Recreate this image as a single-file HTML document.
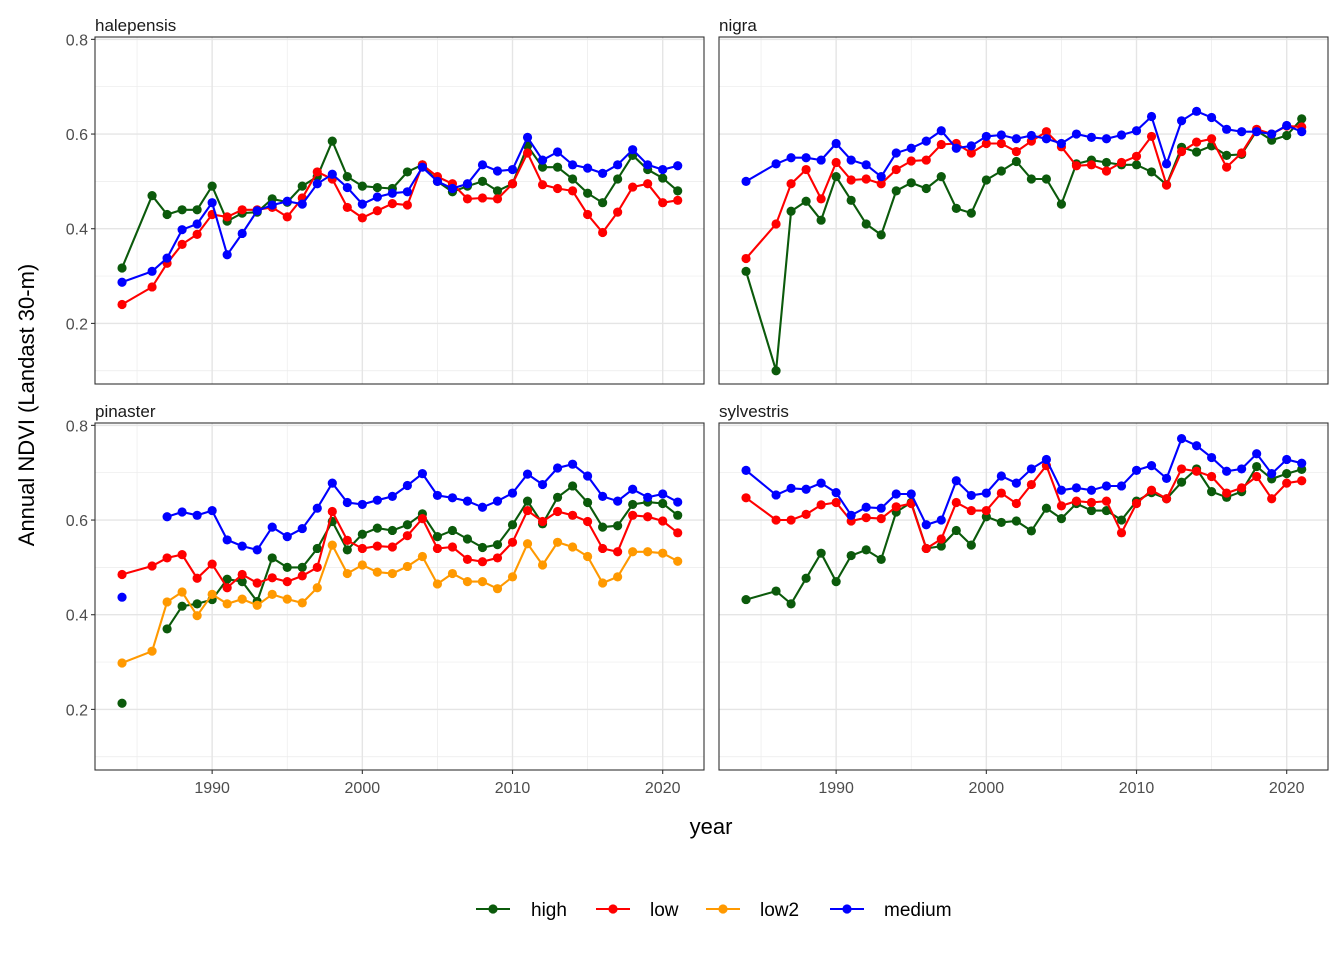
<!DOCTYPE html>
<html><head><meta charset="utf-8"><style>
html,body{margin:0;background:#fff;font-family:"Liberation Sans",Arial,sans-serif;width:1344px;height:960px;overflow:hidden}
svg text{font-family:"Liberation Sans",Arial,sans-serif}
#chart{position:absolute;left:0;top:0}
</style></head><body>
<svg id="chart" width="1344" height="960" viewBox="0 0 1344 960"></svg>
<script>
const years=[1984,1986,1987,1988,1989,1990,1991,1992,1993,1994,1995,1996,1997,1998,1999,2000,2001,2002,2003,2004,2005,2006,2007,2008,2009,2010,2011,2012,2013,2014,2015,2016,2017,2018,2019,2020,2021];
const panelNames=["halepensis","nigra","pinaster","sylvestris"];
const seriesNames=["high","low","low2","medium"];
const seriesColors=["#0b5a0b","#ff0000","#ff9900","#0000ff"];
const yTicks=[0.2,0.4,0.6,0.8];
const xTicks=[1990,2000,2010,2020];
const halHigh=[0.317,0.47,0.43,0.44,0.44,0.49,0.416,0.433,0.435,0.463,0.456,0.49,0.51,0.585,0.51,0.49,0.487,0.485,0.52,0.535,0.5,0.478,0.49,0.5,0.48,0.495,0.575,0.53,0.53,0.505,0.475,0.455,0.505,0.555,0.525,0.507,0.48];
const halLow=[0.24,0.277,0.327,0.367,0.388,0.43,0.425,0.44,0.44,0.445,0.425,0.465,0.52,0.505,0.445,0.423,0.438,0.453,0.45,0.535,0.51,0.495,0.463,0.465,0.463,0.495,0.56,0.493,0.485,0.48,0.43,0.392,0.435,0.488,0.495,0.455,0.46];
const halMed=[0.287,0.31,0.338,0.398,0.41,0.455,0.345,0.39,0.438,0.45,0.458,0.452,0.495,0.515,0.487,0.452,0.467,0.475,0.478,0.53,0.5,0.485,0.495,0.535,0.522,0.525,0.593,0.545,0.562,0.535,0.528,0.517,0.535,0.567,0.535,0.525,0.533];
const nigHigh=[0.31,0.1,0.437,0.458,0.418,0.51,0.46,0.41,0.387,0.48,0.497,0.485,0.51,0.443,0.433,0.503,0.522,0.542,0.505,0.505,0.452,0.537,0.545,0.54,0.535,0.535,0.52,0.493,0.572,0.562,0.575,0.555,0.557,0.607,0.587,0.597,0.632];
const nigLow=[0.337,0.41,0.495,0.525,0.463,0.54,0.503,0.505,0.495,0.525,0.543,0.545,0.578,0.58,0.56,0.58,0.58,0.563,0.585,0.605,0.573,0.533,0.535,0.522,0.54,0.553,0.595,0.492,0.563,0.583,0.59,0.53,0.56,0.61,0.6,0.617,0.615];
const nigMed=[0.5,0.537,0.55,0.55,0.545,0.58,0.545,0.535,0.51,0.56,0.57,0.585,0.607,0.57,0.575,0.595,0.598,0.59,0.597,0.59,0.58,0.6,0.593,0.59,0.598,0.607,0.637,0.537,0.628,0.648,0.635,0.61,0.605,0.605,0.6,0.618,0.605];
const pinHigh=[0.213,null,0.37,0.418,0.423,0.432,0.475,0.47,0.428,0.52,0.5,0.5,0.54,0.597,0.537,0.57,0.583,0.578,0.59,0.613,0.565,0.578,0.56,0.542,0.548,0.59,0.64,0.592,0.648,0.672,0.637,0.585,0.588,0.633,0.638,0.635,0.61];
const pinLow=[0.485,0.503,0.52,0.527,0.477,0.507,0.457,0.485,0.467,0.478,0.47,0.482,0.5,0.618,0.557,0.54,0.545,0.543,0.567,0.603,0.54,0.543,0.517,0.512,0.52,0.553,0.62,0.597,0.618,0.61,0.597,0.54,0.533,0.61,0.607,0.598,0.573];
const pinLow2=[0.298,0.323,0.427,0.448,0.398,0.443,0.423,0.433,0.42,0.443,0.433,0.425,0.457,0.547,0.487,0.505,0.49,0.487,0.502,0.523,0.465,0.487,0.47,0.47,0.455,0.48,0.55,0.505,0.553,0.543,0.523,0.467,0.48,0.533,0.533,0.53,0.513];
const pinMed=[0.437,null,0.607,0.617,0.61,0.62,0.558,0.545,0.537,0.585,0.565,0.582,0.625,0.678,0.637,0.633,0.642,0.65,0.673,0.698,0.652,0.647,0.64,0.627,0.64,0.657,0.697,0.675,0.71,0.718,0.693,0.65,0.64,0.665,0.648,0.655,0.638];
const sylHigh=[0.432,0.45,0.423,0.477,0.53,0.47,0.525,0.537,0.517,0.617,0.637,0.54,0.545,0.578,0.547,0.607,0.595,0.598,0.577,0.625,0.603,0.635,0.62,0.62,0.6,0.64,0.658,0.645,0.68,0.708,0.66,0.648,0.66,0.713,0.687,0.698,0.707];
const sylLow=[0.647,0.6,0.6,0.612,0.632,0.637,0.598,0.605,0.603,0.628,0.635,0.54,0.56,0.637,0.62,0.62,0.657,0.635,0.675,0.715,0.63,0.64,0.637,0.64,0.573,0.635,0.663,0.645,0.708,0.703,0.692,0.657,0.668,0.692,0.645,0.678,0.683];
const sylMed=[0.705,0.653,0.667,0.665,0.678,0.658,0.61,0.627,0.625,0.655,0.655,0.59,0.6,0.683,0.652,0.657,0.693,0.678,0.708,0.728,0.663,0.668,0.663,0.672,0.672,0.705,0.715,0.688,0.772,0.757,0.732,0.703,0.708,0.74,0.698,0.728,0.72];
const panelData=[[halHigh,halLow,null,halMed],[nigHigh,nigLow,null,nigMed],[pinHigh,pinLow,pinLow2,pinMed],[sylHigh,sylLow,null,sylMed]];

const NS="http://www.w3.org/2000/svg";
const svg=document.getElementById('chart');
function mk(tag,attrs,parent){const e=document.createElementNS(NS,tag);for(const k in attrs)e.setAttribute(k,attrs[k]);(parent||svg).appendChild(e);return e;}
const panels=[{x:95,y:37},{x:719,y:37},{x:95,y:423},{x:719,y:423}];
const PW=609,PH=347;
const yMin=0.072,yMax=0.805,xMin=1982.2,xMax=2022.75;
panels.forEach((p,pi)=>{
  const g=mk('g',{});
  
  
  const sx=v=>p.x+(v-xMin)/(xMax-xMin)*PW;
  const sy=v=>p.y+PH-(v-yMin)/(yMax-yMin)*PH;
  [0.1,0.3,0.5,0.7].forEach(v=>mk('line',{x1:p.x,x2:p.x+PW,y1:sy(v),y2:sy(v),stroke:'#ebebeb','stroke-width':0.7},g));
  [1985,1995,2005,2015].forEach(v=>mk('line',{x1:sx(v),x2:sx(v),y1:p.y,y2:p.y+PH,stroke:'#ebebeb','stroke-width':0.7},g));
  yTicks.forEach(v=>mk('line',{x1:p.x,x2:p.x+PW,y1:sy(v),y2:sy(v),stroke:'#e5e5e5','stroke-width':1.4},g));
  xTicks.forEach(v=>mk('line',{x1:sx(v),x2:sx(v),y1:p.y,y2:p.y+PH,stroke:'#e5e5e5','stroke-width':1.4},g));
  panelData[pi].forEach((arr,si)=>{
    if(!arr)return;
    const sg=mk('g',{},g);
    
    
    let d='',pen=false;
    arr.forEach((v,i)=>{if(v==null){pen=false;return;}d+=(pen?'L':'M')+sx(years[i]).toFixed(1)+','+sy(v).toFixed(1);pen=true;});
    mk('path',{d:d,fill:'none',stroke:seriesColors[si],'stroke-width':2.1},sg);
    arr.forEach((v,i)=>{if(v==null)return;
      const c=mk('circle',{cx:sx(years[i]),cy:sy(v),r:4.6,fill:seriesColors[si]},sg);
      
      
    });
  });
  mk('rect',{x:p.x,y:p.y,width:PW,height:PH,fill:'none',stroke:'#333','stroke-width':1.1},g);
  const t=mk('text',{x:p.x,y:p.y-6,'font-size':'17px',fill:'#1a1a1a'},g);t.textContent=panelNames[pi];
  
  
  if(pi%2==0){yTicks.forEach(v=>{
    mk('line',{x1:p.x-4,x2:p.x,y1:sy(v),y2:sy(v),stroke:'#333','stroke-width':1.1},g);
    const tt=mk('text',{x:p.x-7,y:sy(v)+6,'font-size':'16px',fill:'#4d4d4d','text-anchor':'end'},g);tt.textContent=v.toFixed(1);
    
    
  });}
  if(pi>=2){xTicks.forEach(v=>{
    mk('line',{x1:sx(v),x2:sx(v),y1:p.y+PH,y2:p.y+PH+4,stroke:'#333','stroke-width':1.1},g);
    const tt=mk('text',{x:sx(v),y:p.y+PH+23,'font-size':'16px',fill:'#4d4d4d','text-anchor':'middle'},g);tt.textContent=v;
    
    
  });}
});
</script>
<svg width="1344" height="960" style="position:absolute;left:0;top:0;pointer-events:none">
<text x="711" y="834" font-size="22" text-anchor="middle" fill="#000">year</text>
<text transform="translate(34,405) rotate(-90)" font-size="22" text-anchor="middle" fill="#000">Annual NDVI (Landast 30-m)</text>
<g>
<g><line x1="476" x2="510" y1="909" y2="909" stroke="#0b5a0b" stroke-width="2.1"/><circle cx="493" cy="909" r="4.6" fill="#0b5a0b"/><text x="531" y="916" font-size="19" fill="#000">high</text></g>
<g><line x1="596" x2="630" y1="909" y2="909" stroke="#ff0000" stroke-width="2.1"/><circle cx="613" cy="909" r="4.6" fill="#ff0000"/><text x="650" y="916" font-size="19" fill="#000">low</text></g>
<g><line x1="706" x2="740" y1="909" y2="909" stroke="#ff9900" stroke-width="2.1"/><circle cx="723" cy="909" r="4.6" fill="#ff9900"/><text x="760" y="916" font-size="19" fill="#000">low2</text></g>
<g><line x1="830" x2="864" y1="909" y2="909" stroke="#0000ff" stroke-width="2.1"/><circle cx="847" cy="909" r="4.6" fill="#0000ff"/><text x="884" y="916" font-size="19" fill="#000">medium</text></g>
</g>
</svg>
</body></html>
